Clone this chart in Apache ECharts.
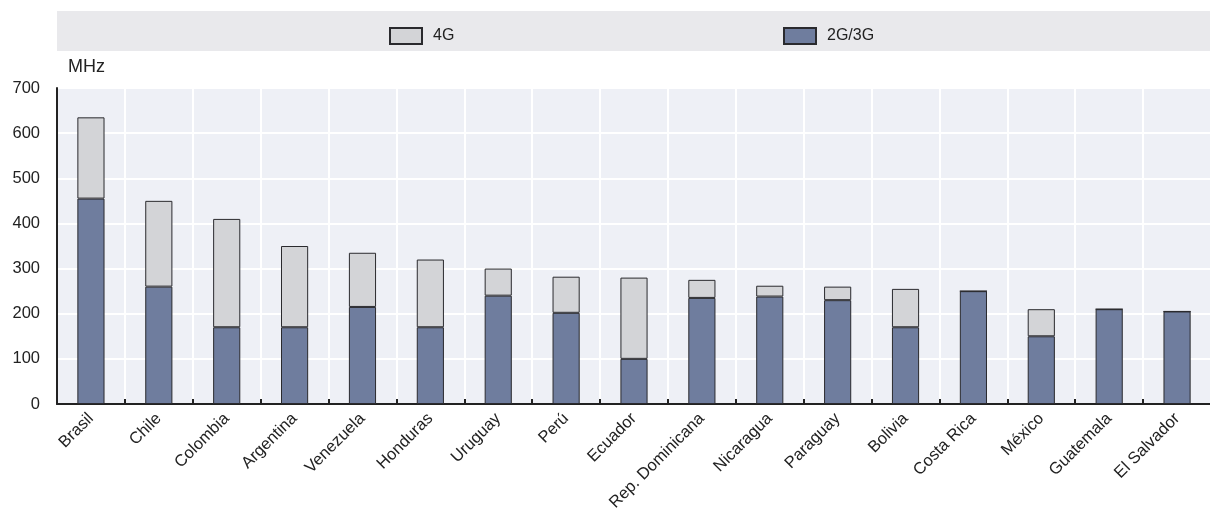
<!DOCTYPE html>
<html><head><meta charset="utf-8">
<script src="https://cdn.jsdelivr.net/npm/echarts@6/dist/echarts.min.js"></script>
<style>html,body{margin:0;padding:0;background:#fff}#c{width:1210px;height:508px}</style>
</head><body><div id="c"></div>
<script>
const categories = ['Brasil','Chile','Colombia','Argentina','Venezuela','Honduras','Uruguay','Perú','Ecuador','Rep. Dominicana','Nicaragua','Paraguay','Bolivia','Costa Rica','México','Guatemala','El Salvador'];
const base2G3G = [455,260,170,170,215,170,240,202,100,235,238,230,170,250,150,210,205];
const add4G =    [180,190,240,180,120,150,60,80,180,40,24,30,85,0,60,0,0];
const yTicks = [0,100,200,300,400,500,600,700];
const unitLabel = 'MHz';

const FONT = 'Liberation Sans, Arial, sans-serif';
const chart = echarts.init(document.getElementById('c'), null, {renderer:'canvas'});
chart.setOption({
  animation:false,
  backgroundColor:'#fff',
  graphic:[
    {type:'rect', left:57, top:11, shape:{width:1153, height:40}, style:{fill:'#e9e9ec'}, z:-1},
    {type:'text', left:68, top:58, style:{text:unitLabel, font:'18px '+FONT, fill:'#222'}}
  ],
  legend:[
    {data:['4G'], left:384, top:22, icon:'rect', itemWidth:32, itemHeight:16, itemGap:10, textStyle:{fontFamily:FONT, fontSize:16, color:'#222', padding:[0,0,0,6]}},
    {data:['2G/3G'], left:778, top:22, icon:'rect', itemWidth:32, itemHeight:16, textStyle:{fontFamily:FONT, fontSize:16, color:'#222', padding:[0,0,0,6]}}
  ],
  grid:{left:57, top:88, right:-1, bottom:104, containLabel:false, outerBoundsMode:'none', show:true, backgroundColor:'#eef0f6', borderColor:'#555', borderWidth:1},
  xAxis:{
    type:'category', data:categories, boundaryGap:true,
    axisLine:{lineStyle:{color:'#222', width:2}},
    axisTick:{show:true, inside:true, length:5, lineStyle:{color:'#222', width:2}},
    splitLine:{show:true, lineStyle:{color:'#fff', width:2}},
    axisLabel:{rotate:45, interval:0, fontFamily:FONT, fontSize:16.5, color:'#222', margin:12}
  },
  yAxis:{
    type:'value', min:0, max:700, interval:100,
    axisLine:{show:true, lineStyle:{color:'#222', width:2}},
    axisTick:{show:false},
    splitLine:{lineStyle:{color:'#fff', width:2}},
    axisLabel:{fontFamily:FONT, fontSize:16.5, color:'#222', margin:17,
      formatter:v=>yTicks.includes(v)?String(v):''}
  },
  series:[
    {name:'2G/3G', type:'bar', stack:'s', data:base2G3G, barWidth:'40%',
     itemStyle:{color:'#6f7d9e', borderColor:'#2a2a2e', borderWidth:1}},
    {name:'4G', type:'bar', stack:'s', data:add4G, barWidth:'40%',
     itemStyle:{color:'#d3d4d7', borderColor:'#2a2a2e', borderWidth:1}}
  ]
});
</script></body></html>
